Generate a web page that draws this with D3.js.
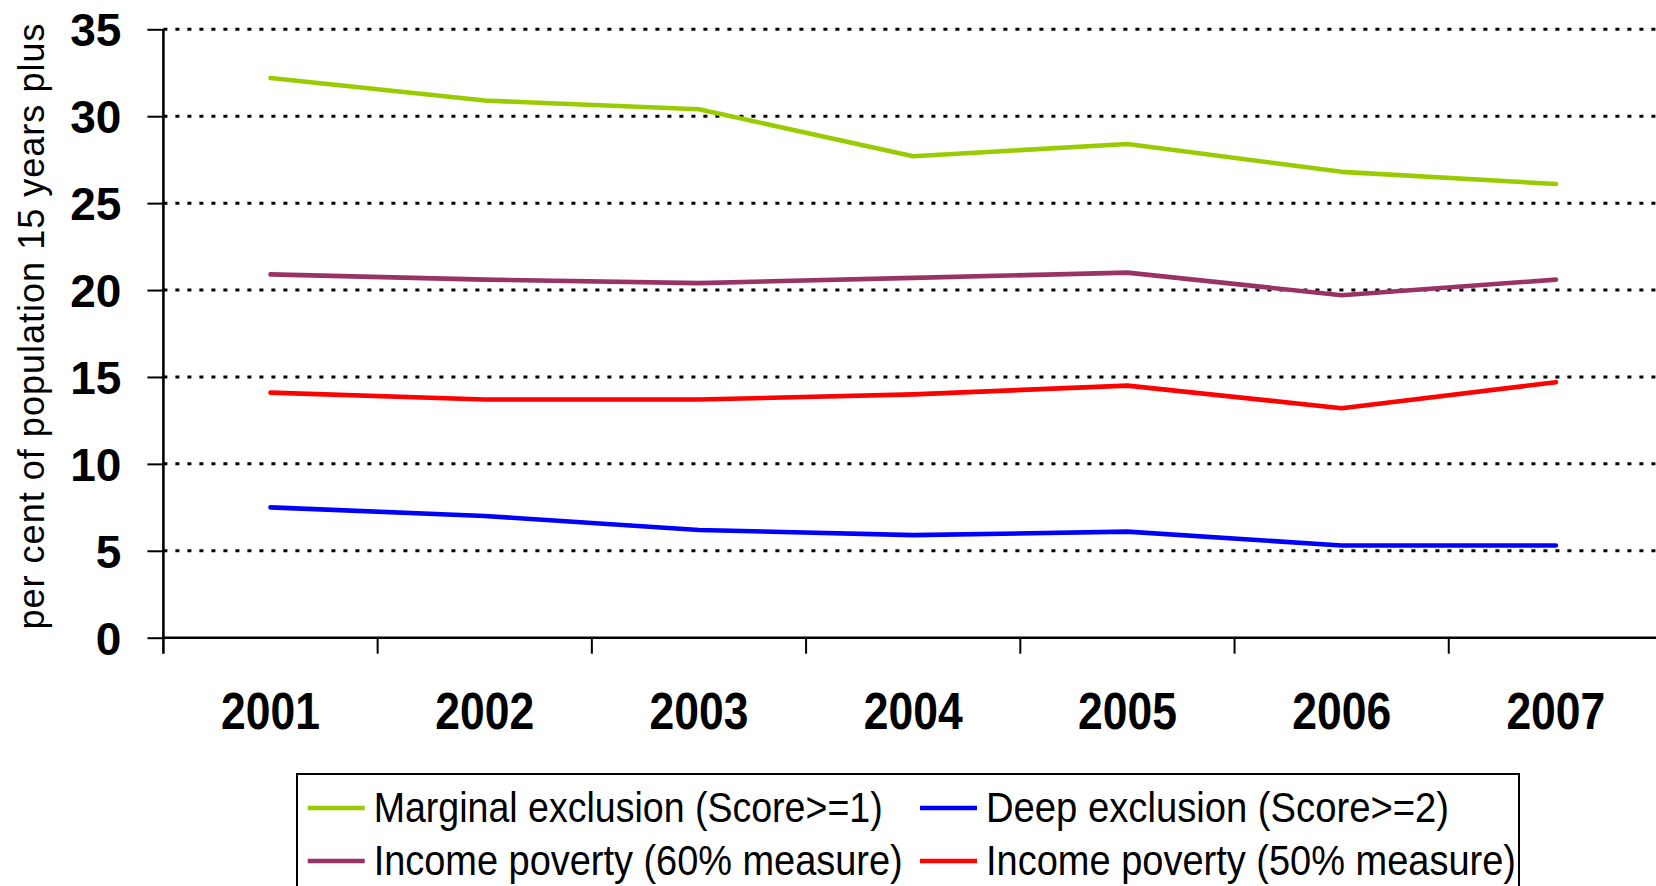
<!DOCTYPE html>
<html>
<head>
<meta charset="utf-8">
<script src="https://cdn.jsdelivr.net/npm/d3@7"></script>
<style>
  body { margin: 0; background: #fff; }
  svg { display: block; font-family: "Liberation Sans", Arial, sans-serif; }
</style>
</head>
<body>
<script>
// chart data
const years = ["2001", "2002", "2003", "2004", "2005", "2006", "2007"];
const marginal = [32.2, 30.9, 30.4, 27.7, 28.4, 26.8, 26.1];
const deep = [7.5, 7.0, 6.2, 5.9, 6.1, 5.3, 5.3];
const poverty60 = [20.9, 20.6, 20.4, 20.7, 21.0, 19.7, 20.6];
const poverty50 = [14.1, 13.7, 13.7, 14.0, 14.5, 13.2, 14.7];
const yTicks = [0, 5, 10, 15, 20, 25, 30, 35];

const series = [
    { name: "Marginal exclusion (Score>=1)", values: marginal, color: "#99cc00" },
    { name: "Deep exclusion (Score>=2)", values: deep, color: "#0000ff" },
    { name: "Income poverty (60% measure)", values: poverty60, color: "#993366" },
    { name: "Income poverty (50% measure)", values: poverty50, color: "#ff0000" }
];

const width = 1656, height = 886;
const plot = { left: 163.4, right: 1663, top: 29.3, bottom: 637.7 };

let svg = d3.select("body")
    .append("svg")
    .attr("width", width)
    .attr("height", height);

let x = d3.scaleBand()
    .domain(years)
    .range([plot.left, plot.right]);

let y = d3.scaleLinear()
    .domain([0, 35])
    .range([plot.bottom, plot.top]);

// dotted gridlines
svg.append("g")
    .selectAll("line")
    .data(yTicks.filter(d => d > 0))
    .enter()
    .append("line")
    .attr("x1", plot.left)
    .attr("x2", width)
    .attr("y1", d => y(d))
    .attr("y2", d => y(d))
    .attr("stroke", "#000")
    .attr("stroke-width", 3)
    .attr("stroke-dasharray", "4,8");

// y axis
let yAxis = svg.append("g")
    .attr("transform", `translate(${plot.left},0)`)
    .call(d3.axisLeft(y).tickValues(yTicks).tickSize(16).tickPadding(26));
yAxis.select(".domain").attr("stroke-width", 2.6).attr("d", `M0,${plot.top}V${plot.bottom + 16}`);
yAxis.selectAll(".tick line").attr("stroke-width", 2);
yAxis.selectAll(".tick text")
    .attr("font-family", "'Liberation Sans', Arial, sans-serif")
    .attr("font-size", 46)
    .attr("font-weight", "bold")
    .attr("fill", "#000")
    .attr("dy", "0.36em");

// x axis, ticks on category boundaries
let xAxis = svg.append("g")
    .attr("transform", `translate(0,${plot.bottom})`);
xAxis.append("line")
    .attr("x1", plot.left)
    .attr("x2", width)
    .attr("stroke", "#000")
    .attr("stroke-width", 2.4);
xAxis.selectAll(".xtick")
    .data(years.slice(1))
    .enter()
    .append("line")
    .attr("class", "xtick")
    .attr("x1", d => x(d))
    .attr("x2", d => x(d))
    .attr("y1", 0)
    .attr("y2", 16)
    .attr("stroke", "#000")
    .attr("stroke-width", 2);
xAxis.selectAll(".xlabel")
    .data(years)
    .enter()
    .append("text")
    .attr("class", "xlabel")
    .attr("x", d => x(d) + x.bandwidth() / 2)
    .attr("y", 91)
    .attr("text-anchor", "middle")
    .attr("font-size", 51)
    .attr("font-weight", "bold")
    .attr("textLength", 99)
    .attr("lengthAdjust", "spacingAndGlyphs")
    .text(d => d);

// y axis title
svg.append("text")
    .attr("transform", `translate(44,${(23 + 630) / 2}) rotate(-90)`)
    .attr("text-anchor", "middle")
    .attr("font-size", 36)
    .attr("textLength", 606)
    .attr("lengthAdjust", "spacing")
    .text("per cent of population 15 years plus");

// lines
let line = d3.line()
    .x((d, i) => x(years[i]) + x.bandwidth() / 2)
    .y(d => y(d));

svg.append("g")
    .selectAll("path")
    .data(series)
    .enter()
    .append("path")
    .attr("d", d => line(d.values))
    .attr("fill", "none")
    .attr("stroke", d => d.color)
    .attr("stroke-width", 4.6)
    .attr("stroke-linejoin", "round")
    .attr("stroke-linecap", "round");

// legend
const legendCols = [307.7, 920];
const legendRows = [808, 861];
const legendWidths = [509, 463, 529, 530];

let legend = svg.append("g");
legend.append("rect")
    .attr("x", 297)
    .attr("y", 774)
    .attr("width", 1519 - 297)
    .attr("height", 140)
    .attr("fill", "#fff")
    .attr("stroke", "#000")
    .attr("stroke-width", 2);

let items = legend.selectAll(".item")
    .data(series)
    .enter()
    .append("g")
    .attr("class", "item")
    .attr("transform", (d, i) => `translate(${legendCols[i % 2]},${legendRows[Math.floor(i / 2)]})`);

items.append("line")
    .attr("x1", 0)
    .attr("x2", 57)
    .attr("stroke", d => d.color)
    .attr("stroke-width", 4.4);

items.append("text")
    .attr("x", 66)
    .attr("y", 14)
    .attr("font-size", 42)
    .attr("textLength", (d, i) => legendWidths[i])
    .attr("lengthAdjust", "spacingAndGlyphs")
    .text(d => d.name);
</script>
</body>
</html>
